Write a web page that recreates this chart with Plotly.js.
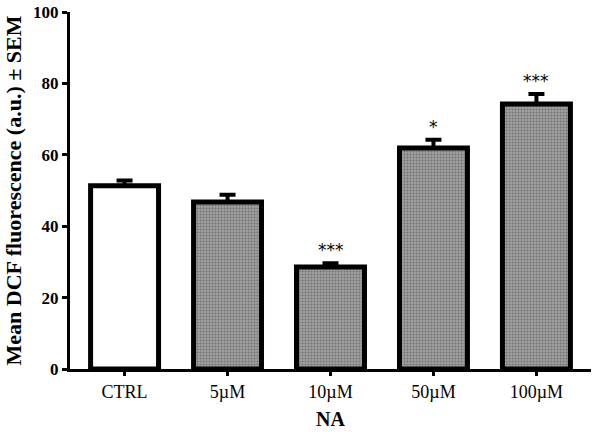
<!DOCTYPE html>
<html>
<head>
<meta charset="utf-8">
<script src="https://cdn.plot.ly/plotly-3.0.1.min.js"></script>
<style>
  html, body { margin: 0; padding: 0; background: #fff; }
  #chart { width: 600px; height: 432px; }
</style>
</head>
<body>
<div id="chart"></div>
<script>
// values
var groups = ['CTRL', '5\u00b5M', '10\u00b5M', '50\u00b5M', '100\u00b5M'];
var meanDcf = [51.3, 46.8, 28.6, 61.9, 74.2];
var semDcf = [1.5, 2.0, 1.0, 2.3, 2.8];
var stars = ['', '', '***', '*', '***'];

var serif = 'Liberation Serif, Times New Roman, serif';

var trace = {
    type: 'bar',
    x: groups,
    y: meanDcf,
    width: 0.66,
    marker: {
        color: groups.map(function (g, i) { return i === 0 ? '#ffffff' : '#a0a0a0'; }),
        line: { color: '#000', width: 5 },
        pattern: {
            shape: groups.map(function (g, i) { return i === 0 ? '' : '.'; }),
            fillmode: 'overlay',
            fgcolor: '#000000',
            size: 3,
            solidity: 0.35
        }
    },
    error_y: {
        type: 'data',
        symmetric: false,
        array: semDcf,
        arrayminus: semDcf.map(function () { return 0; }),
        color: '#000',
        thickness: 4,
        width: 8
    },
    hoverinfo: 'x+y'
};

var annotations = [];
for (var i = 0; i < groups.length; i++) {
    if (stars[i]) {
        annotations.push({
            x: groups[i],
            y: meanDcf[i] + semDcf[i],
            text: stars[i],
            showarrow: false,
            yanchor: 'bottom',
            yshift: 1,
            font: { family: 'DejaVu Sans, sans-serif', size: 17, color: '#000' }
        });
    }
}

var layout = {
    width: 600,
    height: 432,
    margin: { l: 70, r: 9, t: 12, b: 63, pad: 0 },
    paper_bgcolor: '#fff',
    plot_bgcolor: '#fff',
    showlegend: false,
    xaxis: {
        range: [-0.53, 4.53],
        showline: true,
        linecolor: '#000',
        linewidth: 3,
        ticks: 'outside',
        ticklen: 4,
        tickwidth: 3,
        tickcolor: '#000',
        showgrid: false,
        zeroline: false,
        tickfont: { family: serif, size: 18, color: '#000' },
        title: {
            text: 'NA',
            standoff: 12,
            font: { family: serif, size: 20, color: '#000', weight: 'bold' }
        }
    },
    yaxis: {
        range: [0, 100],
        dtick: 20,
        showline: true,
        linecolor: '#000',
        linewidth: 3,
        ticks: 'outside',
        ticklen: 5,
        tickwidth: 3,
        tickcolor: '#000',
        showgrid: false,
        zeroline: false,
        tickfont: { family: serif, size: 17, color: '#000', weight: 'bold' },
        title: {
            text: 'Mean DCF fluorescence (a.u.) \u00b1 SEM',
            standoff: 6,
            font: { family: serif, size: 22, color: '#000', weight: 'bold' }
        }
    },
    annotations: annotations
};

Plotly.newPlot('chart', [trace], layout, { displayModeBar: false });
</script>
</body>
</html>
